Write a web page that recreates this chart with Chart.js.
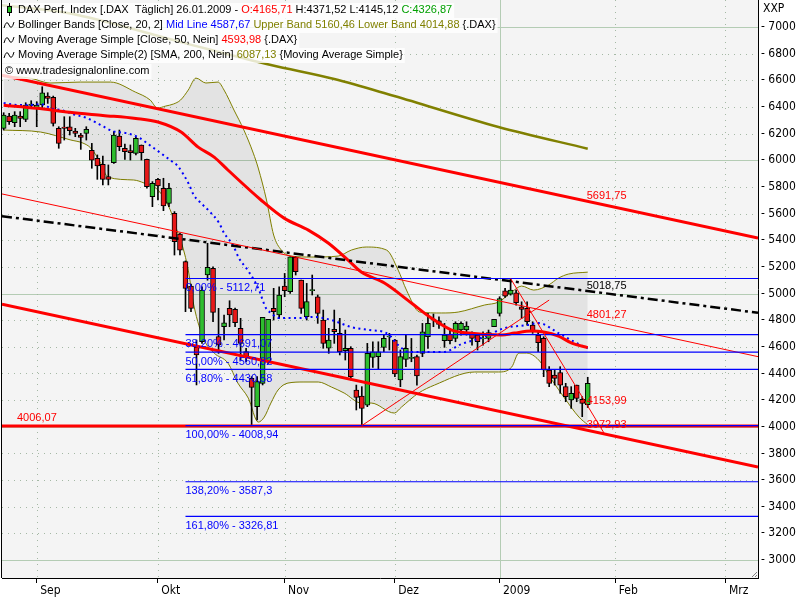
<!DOCTYPE html>
<html>
<head>
<meta charset="utf-8">
<script src="https://cdn.jsdelivr.net/npm/chart.js@4.4.1/dist/chart.umd.min.js"></script>
<style>
  html, body { margin: 0; padding: 0; background: #fff; }
  canvas { display: block; }
</style>
</head>
<body>
<canvas id="chart" width="800" height="600"></canvas>
<script>
// x = trading day index, 0 = 01.09.2008, 100 = 26.01.2009
var firstBar = -6;
var xMin = -6.3, xMax = 130.9;

var opens = [
  6240, 6332, 6282, 6332, 6307, 6412, 6395, 6415, 6482, 6472,
  6240, 6250, 6252, 6220, 6190, 6202, 6075, 6015, 5970, 5877,
  5982, 6182, 6090, 6072, 6052, 6115, 6007, 5727, 5857, 5790,
  5677, 5601, 5446, 5239, 5056, 4596, 4639, 5139, 5189, 4676,
  4751, 4889, 4881, 4739, 4564, 4364, 4151, 4326, 4489, 4889,
  4839, 5056, 5014, 5271, 5101, 4826, 5021, 4976, 4801, 4589,
  4731, 4701, 4571, 4589, 4276, 4231, 4163, 4521, 4526, 4596,
  4674, 4651, 4351, 4506, 4513, 4526, 4551, 4676, 4800, 4796,
  4646, 4696, 4663, 4726, 4726, 4706, 4688, 4660, 4663, 4751,
  4851, 5021, 4996, 5006, 4901, 4888, 4763, 4688, 4663, 4426,
  4388, 4406, 4301, 4201, 4313, 4206, 4165.71
];
var highs = [
  6357, 6352, 6365, 6365, 6432, 6447, 6440, 6552, 6507, 6482,
  6252, 6327, 6327, 6240, 6202, 6252, 6127, 6040, 6032, 5965,
  6215, 6227, 6122, 6115, 6177, 6115, 6010, 5840, 5865, 5865,
  5827, 5615, 5452, 5245, 5070, 4651, 5051, 5377, 5201, 4889,
  4839, 4946, 4890, 4814, 4589, 4376, 4376, 4821, 4806, 5039,
  5051, 5151, 5276, 5276, 5101, 5076, 5139, 4989, 4876, 4739,
  4876, 4814, 4726, 4601, 4313, 4301, 4626, 4638, 4638, 4688,
  4701, 4656, 4576, 4688, 4663, 4538, 4776, 4851, 4846, 4826,
  4776, 4726, 4788, 4788, 4788, 4713, 4701, 4713, 4726, 4806,
  4976, 5039, 5112.71, 5026, 4938, 4938, 4788, 4713, 4676, 4451,
  4426, 4451, 4326, 4301, 4313, 4226, 4371.52
];
var lows = [
  6227, 6270, 6252, 6252, 6290, 6390, 6252, 6382, 6427, 6257,
  6090, 6152, 6190, 6177, 6082, 6152, 5940, 5857, 5815, 5815,
  5977, 6072, 6007, 6002, 6040, 6002, 5790, 5652, 5702, 5622,
  5652, 5289, 5289, 4864, 4864, 4314, 4626, 5100, 4789, 4551,
  4651, 4751, 4751, 4501, 4489, 4015, 4051, 4314, 4476, 4801,
  4814, 4976, 5001, 5139, 4851, 4801, 4989, 4776, 4589, 4551,
  4626, 4539, 4501, 4351, 4126, 4008.94, 4151, 4446, 4431, 4563,
  4576, 4376, 4301, 4451, 4488, 4313, 4526, 4588, 4751, 4738,
  4596, 4621, 4638, 4688, 4688, 4613, 4576, 4613, 4638, 4751,
  4831, 4971, 4988, 4913, 4813, 4763, 4701, 4563, 4376, 4301,
  4313, 4251, 4188, 4138, 4188, 4076, 4145.12
];
var closes = [
  6340, 6290, 6340, 6315, 6415, 6422, 6415, 6507, 6465, 6277,
  6127, 6240, 6222, 6202, 6172, 6232, 6000, 5957, 5857, 5857,
  6190, 6102, 6065, 6057, 6165, 6057, 5802, 5827, 5807, 5657,
  5790, 5389, 5326, 5039, 4889, 4539, 5026, 5196, 4859, 4614,
  4781, 4839, 4781, 4626, 4521, 4296, 4339, 4821, 4806, 4864,
  4989, 5021, 5276, 5164, 4889, 4939, 5030, 4851, 4626, 4651,
  4714, 4564, 4589, 4376, 4221, 4138, 4551, 4563, 4563, 4663,
  4680, 4396, 4526, 4588, 4521, 4381, 4713, 4776, 4808, 4768,
  4688, 4646, 4776, 4776, 4756, 4663, 4638, 4666, 4706, 4806,
  4963, 4981, 5026, 4931, 4881, 4788, 4713, 4631, 4426, 4326,
  4363, 4313, 4226, 4251, 4213, 4176, 4326.87
];

// Bollinger Bands (20, 2)
var bbUpperX = [-6, -1.2, 2.4, 7.9, 13.4, 17.9, 20.6, 21.9, 23.4, 24.8, 26.1, 27.5, 28.9, 30.7, 32.9, 34, 35.8, 37.6, 39.3, 40.2,
  41.7, 43, 44.4, 46.2, 49.8, 54.7, 57.1, 59.8, 63.5, 65.6, 67.1, 69.5, 73.5, 76.5, 81.3, 83.8, 86.2, 88, 90.2, 92.9, 94.7, 96.5, 100];
var bbUpper = [6632, 6617, 6580, 6587, 6587, 6512, 6452, 6392, 6407, 6422, 6452, 6527, 6617, 6580, 6587, 6527, 6377, 6227, 6054, 5942,
  5702, 5439, 5326, 5281, 5274, 5281, 5326, 5349, 5326, 5176, 5026, 4861, 4854, 4861, 4914, 4936, 5011, 5056, 5026, 5064, 5116, 5146, 5160.46];
var bbLowerX = [-6, 0.7, 6.2, 8.4, 9.8, 11.6, 12.9, 17.6, 19.5, 22, 24, 24.9, 25.6, 26.5, 27.5, 28.5, 30.4, 32.2, 34.7, 36.5,
  38.4, 40.2, 41.3, 42.5, 43.8, 45.6, 48.5, 51.1, 53.5, 55.8, 58.9, 60.7, 64.9, 66.2, 69.3, 72.2, 79.5, 83.8, 86.2, 87.5,
  88.9, 91.1, 93.5, 95.8, 98.4, 100];
var bbLower = [6227, 6212, 6152, 6129, 6092, 5979, 5874, 5852, 5829, 5777, 5649, 5552, 5454, 5349, 5176, 4914, 4651, 4553, 4478, 4328,
  4215, 4035, 4073, 4178, 4276, 4328, 4336, 4336, 4298, 4253, 4178, 4178, 4103, 4148, 4253, 4313, 4411, 4411, 4448, 4553,
  4553, 4501, 4351, 4215, 4073, 4014.88];
var bbMidX = [-6, -3.3, -1.1, 0.7, 2.9, 4.4, 6.5, 9.1, 11.3, 13.8, 16.2, 18.4, 20.5, 22.5, 24.7, 25.6, 27.6, 28.5, 29.6, 31.3,
  33.1, 34, 35.6, 36.7, 38.4, 40.2, 41.6, 42.5, 44, 47.6, 50.2, 53.5, 57.1, 60.4, 63.5, 65.6, 67.6, 73.8, 77.1, 81.1,
  84.9, 88.9, 91.1, 94.7, 98, 100];
var bbMid = [6430, 6415, 6415, 6422, 6385, 6377, 6347, 6317, 6272, 6219, 6204, 6174, 6114, 6054, 5987, 5957, 5822, 5739, 5687, 5619,
  5529, 5454, 5364, 5266, 5169, 5041, 4891, 4854, 4816, 4816, 4824, 4801, 4748, 4726, 4703, 4613, 4561, 4561, 4621, 4673,
  4741, 4763, 4778, 4703, 4628, 4587.67];

// moving averages
var sma50X = [-6, 0, 6, 12, 18, 22, 26.2, 29.3, 32.2, 34.7, 40.7, 44.9, 49.3, 52.9, 56.5, 58.9, 63.1, 68, 71.6, 75.3,
  78.4, 84.4, 86.7, 89.8, 92, 94.7, 97.1, 100];
var sma50 = [6413, 6390, 6360, 6337, 6314, 6287, 6212, 6099, 6024, 5927, 5702, 5566, 5476, 5379, 5251, 5161, 5079, 4929, 4816, 4726,
  4703, 4688, 4703, 4718, 4711, 4681, 4628, 4593.98];
var sma200X = [-6.3, 5.6, 26.2, 42.5, 54, 64.9, 83.8, 100];
var sma200 = [7163, 7105, 6887, 6715, 6610, 6482, 6250, 6087.13];

// drawn tools: [x0, y0, x1, y1]
var channelTop = [-6.3, 6637.8, 130.9, 5416.7];
var channelMid = [-6.3, 5747.4, 130.9, 4526.3];
var channelLow = [-6.3, 4919.0, 130.9, 3697.9];
var dashLine = [-6.3, 5581.0, 130.9, 4855.3];
var fallLine = [86, 5112.71, 103, 3950];
var riseLine = [59, 4008.94, 93, 4951];
var supportLevel = 4006.07;

var fibStart = 27;
var fibNames = ['0,00%', '38,20%', '50,00%', '61,80%', '100,00%', '138,20%', '161,80%'];
var fibLevels = [5112.71, 4691.07, 4560.82, 4430.58, 4008.94, 3587.3, 3326.81];

var endLabelBar = 100;
var endLabels = [5691.75, 5018.75, 4801.27, 4153.99, 3972.93];
var endLabelColors = ['#ff0000', '#000000', '#ff0000', '#ff0000', '#ff0000'];

var monthTicks = [0, 22, 45, 65, 84, 105, 125];
var monthNames = ['Sep', 'Okt', 'Nov', 'Dez', '2009', 'Feb', 'Mrz'];
var yTicks = [3000, 3200, 3400, 3600, 3800, 4000, 4200, 4400, 4600, 4800, 5000,
  5200, 5400, 5600, 5800, 6000, 6200, 6400, 6600, 6800, 7000];

var RED = '#ff0000', OLIVE = '#808000', BLUE = '#0000ff', UP = '#2ebd2e', DOWN = '#e81818';
var TXT = '11px "Liberation Sans", Arial, sans-serif';
var NARROW = '"Liberation Sans Narrow", "DejaVu Sans Condensed", Arial, sans-serif';

function fmt(v) { return String(+v.toFixed(2)).replace('.', ','); }
function pts(xs, ys) { return xs.map(function(x, i) { return { x: x, y: ys[i] }; }); }
function seg(s) { return [{ x: s[0], y: s[1] }, { x: s[2], y: s[3] }]; }

var wickData = [], bodyData = [], bodyColors = [];
for (var i = 0; i < opens.length; i++) {
  wickData.push({ x: firstBar + i, y: [lows[i], highs[i]] });
  bodyData.push({ x: firstBar + i, y: [opens[i], closes[i]] });
  bodyColors.push(closes[i] >= opens[i] ? UP : DOWN);
}

function lineDs(data, color, width, order, extra) {
  var ds = { type: 'line', data: data, borderColor: color, borderWidth: width, pointRadius: 0, fill: false, order: order };
  for (var k in extra) ds[k] = extra[k];
  return ds;
}

var datasets = [
  lineDs(pts(bbUpperX, bbUpper), OLIVE, 1, 100, { fill: '+1', backgroundColor: 'rgba(0,0,0,0.065)', cubicInterpolationMode: 'monotone' }),
  lineDs(pts(bbLowerX, bbLower), OLIVE, 1, 100, { cubicInterpolationMode: 'monotone' }),
  { type: 'bar', data: wickData, backgroundColor: '#000', borderWidth: 0, barThickness: 1, grouped: false, order: 91 },
  { type: 'bar', data: bodyData, backgroundColor: bodyColors, borderColor: '#000', borderWidth: 1, borderSkipped: false,
    barThickness: 5, grouped: false, order: 90 },
  lineDs(pts(bbMidX, bbMid), BLUE, 2, 50, { borderDash: [2, 3.5], cubicInterpolationMode: 'monotone' }),
  lineDs(pts(sma200X, sma200), OLIVE, 2.5, 50, { cubicInterpolationMode: 'monotone' }),
  lineDs(pts(sma50X, sma50), RED, 3, 40, { cubicInterpolationMode: 'monotone' }),
  lineDs(seg(dashLine), '#000', 2.5, 35, { borderDash: [10, 4, 3, 4] }),
  lineDs(seg(channelTop), RED, 3, 30),
  lineDs(seg(channelMid), RED, 1, 30),
  lineDs(seg(channelLow), RED, 3, 30),
  lineDs(seg([xMin, supportLevel, xMax, supportLevel]), RED, 3, 28),
  lineDs(seg(fallLine), RED, 1, 20),
  lineDs(seg(riseLine), RED, 1, 20)
];
fibLevels.forEach(function(v) {
  datasets.push(lineDs(seg([fibStart, v, xMax, v]), BLUE, 1.2, 25));
});

var gridPlugin = {
  id: 'paperGrid',
  beforeDraw: function(chart) {
    var ctx = chart.ctx, a = chart.chartArea;
    ctx.save();
    ctx.fillStyle = '#ffffff';
    ctx.fillRect(0, 0, chart.width, chart.height);
    ctx.fillStyle = '#f4f4f4';
    ctx.fillRect(a.left, a.top, a.right - a.left, a.bottom - a.top);
    ctx.restore();
  },
  beforeDatasetsDraw: function(chart) {
    var ctx = chart.ctx, a = chart.chartArea, sx = chart.scales.x, sy = chart.scales.y;
    ctx.save();
    ctx.lineWidth = 1;
    yTicks.forEach(function(v) {
      var py = Math.round(sy.getPixelForValue(v)) + 0.5;
      var major = v % 1000 === 0;
      ctx.strokeStyle = major ? '#b4ccb4' : '#a4b8a4';
      ctx.setLineDash(major ? [] : [1, 5]);
      ctx.beginPath(); ctx.moveTo(a.left, py); ctx.lineTo(a.right, py); ctx.stroke();
    });
    monthTicks.forEach(function(v, i) {
      var px = Math.round(sx.getPixelForValue(v)) + 0.5;
      var major = monthNames[i] === '2009';
      ctx.strokeStyle = major ? '#b4ccb4' : '#a4b8a4';
      ctx.setLineDash(major ? [] : [1, 5]);
      ctx.beginPath(); ctx.moveTo(px, a.top); ctx.lineTo(px, a.bottom); ctx.stroke();
    });
    ctx.restore();
  }
};

var legendRows = [
  { y: 10, icon: 'candle', parts: [['DAX Perf. Index [.DAX  Täglich] 26.01.2009 - ', '#000'], ['O:' + fmt(opens[opens.length - 1]), RED],
    [' H:' + fmt(highs[highs.length - 1]) + ' L:' + fmt(lows[lows.length - 1]) + ' ', '#000'], ['C:' + fmt(closes[closes.length - 1]), '#00a000']] },
  { y: 25, icon: 'wave', parts: [['Bollinger Bands [Close, 20, 2] ', '#000'], ['Mid Line ' + fmt(bbMid[bbMid.length - 1]), BLUE],
    [' Upper Band ' + fmt(bbUpper[bbUpper.length - 1]) + ' Lower Band ' + fmt(bbLower[bbLower.length - 1]), OLIVE], [' {.DAX}', '#000']] },
  { y: 40, icon: 'wave', parts: [['Moving Average Simple [Close, 50, Nein] ', '#000'], [fmt(sma50[sma50.length - 1]), RED], [' {.DAX}', '#000']] },
  { y: 55, icon: 'wave', parts: [['Moving Average Simple(2) [SMA, 200, Nein] ', '#000'], [fmt(sma200[sma200.length - 1]), OLIVE],
    [' {Moving Average Simple}', '#000']] },
  { y: 71, icon: null, parts: [['\u00a9 www.tradesignalonline.com', '#000']] }
];

var overlayPlugin = {
  id: 'overlay',
  afterDatasetsDraw: function(chart) {
    var ctx = chart.ctx, a = chart.chartArea, sx = chart.scales.x, sy = chart.scales.y;
    ctx.save();
    ctx.font = TXT;
    ctx.textBaseline = 'alphabetic';
    ctx.textAlign = 'left';

    ctx.fillStyle = BLUE;
    fibLevels.forEach(function(v, i) {
      ctx.fillText(fibNames[i] + ' - ' + fmt(v), sx.getPixelForValue(fibStart), sy.getPixelForValue(v) + 12.5);
    });
    endLabels.forEach(function(v, i) {
      ctx.fillStyle = endLabelColors[i];
      ctx.fillText(fmt(v), sx.getPixelForValue(endLabelBar) - 1, sy.getPixelForValue(v) - 2);
    });
    ctx.fillStyle = RED;
    ctx.fillText(fmt(supportLevel), 17, sy.getPixelForValue(supportLevel) - 4.5);

    // legend block
    ctx.textBaseline = 'middle';
    legendRows.forEach(function(row) {
      var x0 = row.icon ? 18 : 5, w = 0;
      row.parts.forEach(function(p) { w += ctx.measureText(p[0]).width; });
      ctx.fillStyle = 'rgba(255,255,255,0.8)';
      ctx.fillRect(a.left, row.y - 7, x0 + w + 2 - a.left, 15);
      var x = x0;
      row.parts.forEach(function(p) {
        ctx.fillStyle = p[1];
        ctx.fillText(p[0], x, row.y);
        x += ctx.measureText(p[0]).width;
      });
      ctx.strokeStyle = '#000';
      ctx.lineWidth = 1;
      if (row.icon === 'candle') {
        ctx.beginPath(); ctx.moveTo(9.5, row.y - 7); ctx.lineTo(9.5, row.y + 6); ctx.stroke();
        ctx.fillStyle = '#22c022';
        ctx.fillRect(7, row.y - 4, 5, 7);
        ctx.strokeRect(7.5, row.y - 3.5, 4, 6);
      } else if (row.icon === 'wave') {
        ctx.beginPath();
        ctx.moveTo(4, row.y + 3);
        ctx.quadraticCurveTo(6.5, row.y - 6, 9, row.y);
        ctx.quadraticCurveTo(11.5, row.y + 6, 14, row.y - 3);
        ctx.stroke();
      }
    });

    // frame, resize grip and axis title
    ctx.strokeStyle = '#000';
    ctx.beginPath(); ctx.moveTo(a.left - 0.5, 0); ctx.lineTo(a.left - 0.5, a.bottom); ctx.stroke();
    ctx.strokeStyle = '#808080';
    ctx.beginPath();
    ctx.moveTo(a.right - 6, a.bottom - 1); ctx.lineTo(a.right - 1, a.bottom - 6);
    ctx.moveTo(a.right - 3, a.bottom - 1); ctx.lineTo(a.right - 1, a.bottom - 3);
    ctx.stroke();
    ctx.fillStyle = '#000';
    ctx.font = '12px ' + NARROW;
    ctx.fillText('XXP', a.right + 5, 9);
    ctx.restore();
  }
};

function noPad(scale) {
  scale.paddingTop = 0; scale.paddingBottom = 0;
  scale.paddingLeft = 0; scale.paddingRight = 0;
}

var chart = new Chart(document.getElementById('chart').getContext('2d'), {
  type: 'bar',
  data: { datasets: datasets },
  options: {
    responsive: false,
    animation: false,
    events: [],
    layout: { padding: { left: 2, top: 0, right: 0, bottom: 0 } },
    plugins: { legend: { display: false }, tooltip: { enabled: false } },
    scales: {
      x: {
        type: 'linear', min: xMin, max: xMax, offset: false,
        grid: { display: true, drawOnChartArea: false, drawTicks: true, tickLength: 5, tickColor: '#000', offset: false },
        border: { display: true, color: '#000' },
        afterBuildTicks: function(scale) { scale.ticks = monthTicks.map(function(v) { return { value: v }; }); },
        afterFit: function(scale) { scale.height = 22; noPad(scale); },
        ticks: {
          align: 'start', padding: 1, color: '#000', maxRotation: 0, autoSkip: false,
          font: { family: NARROW, size: 12 },
          callback: function(v) { var k = monthTicks.indexOf(v); return k < 0 ? '' : ' ' + monthNames[k]; }
        }
      },
      y: {
        position: 'right', min: 2865, max: 7203,
        grid: { display: true, drawOnChartArea: false, drawTicks: false },
        border: { display: true, color: '#000' },
        afterBuildTicks: function(scale) { scale.ticks = yTicks.map(function(v) { return { value: v }; }); },
        afterFit: function(scale) { scale.width = 42; noPad(scale); },
        ticks: {
          padding: 3, color: '#000', font: { family: NARROW, size: 12 },
          callback: function(v) { return '- ' + v; }
        }
      }
    }
  },
  plugins: [gridPlugin, overlayPlugin]
});
</script>
</body>
</html>
